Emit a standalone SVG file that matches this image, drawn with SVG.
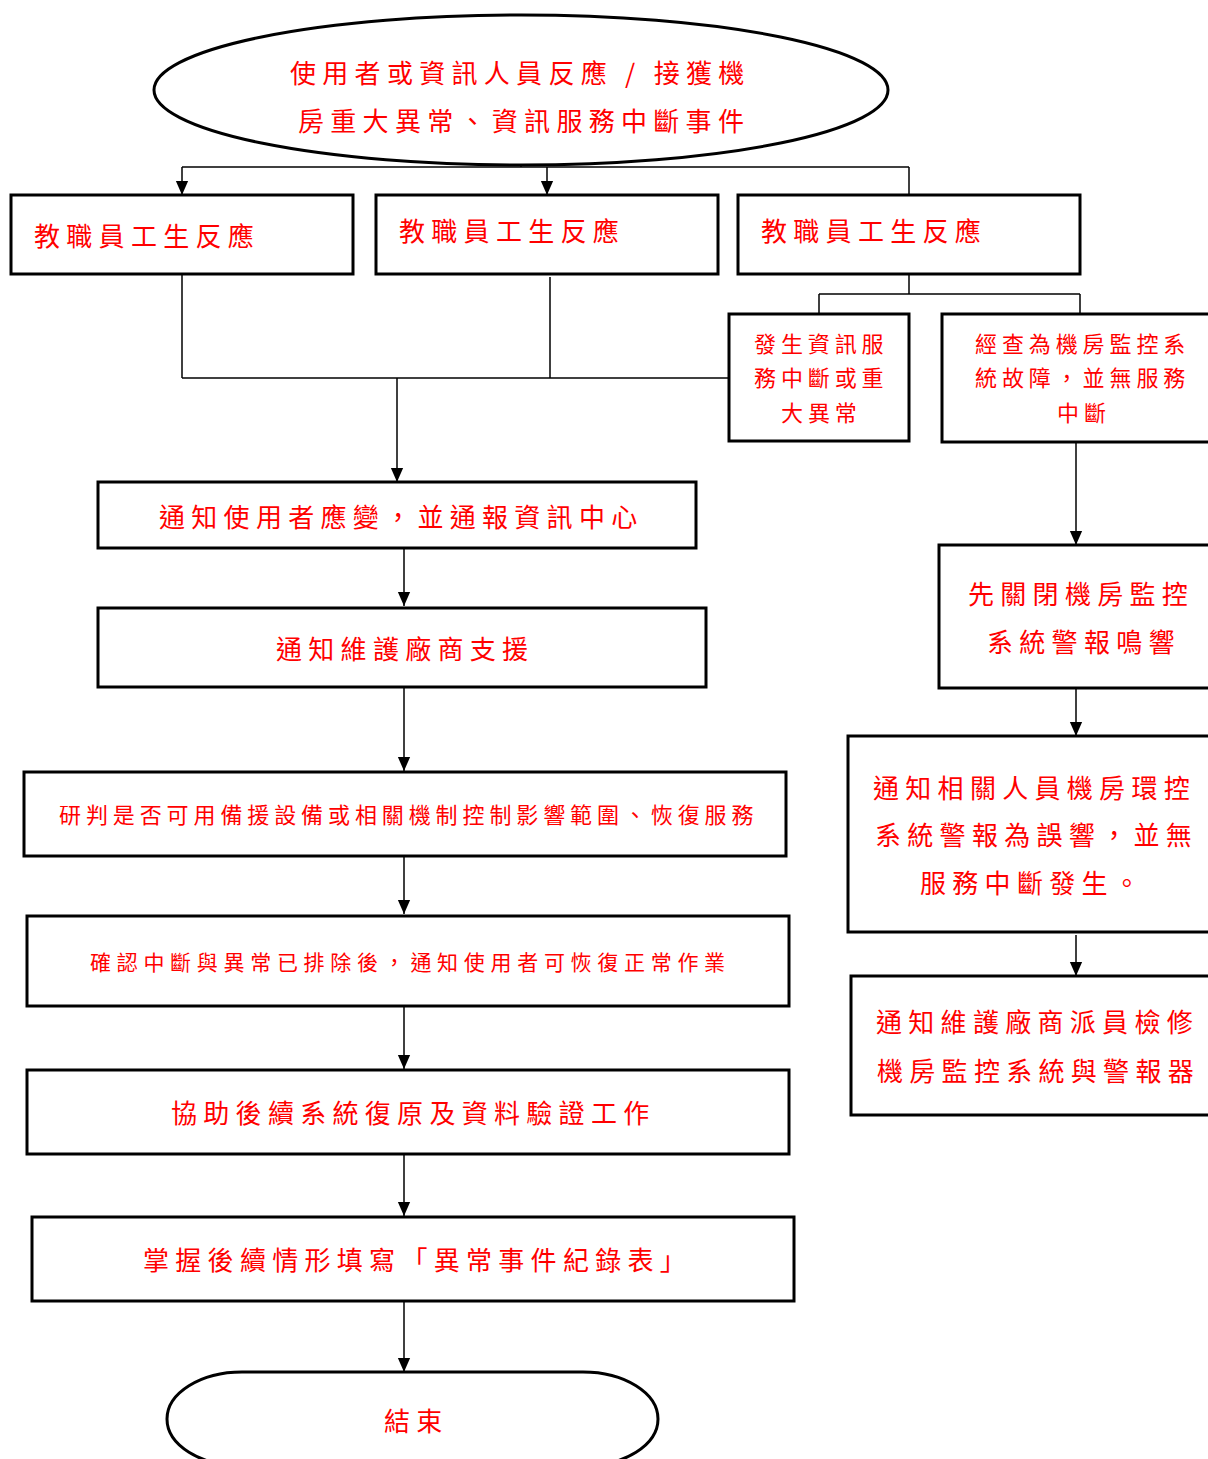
<svg xmlns="http://www.w3.org/2000/svg" width="1208" height="1459" viewBox="0 0 1208 1459">
  <style>
    .box { fill: #ffffff; stroke: #000000; stroke-width: 3; }
    .wire { fill: none; stroke: #000000; stroke-width: 1.5; }
    .lbl { fill: #ff0000; font-family: "Noto Sans CJK TC", "Noto Sans CJK SC", sans-serif; }
    .big { font-size: 26px; letter-spacing: 6.3px; }
    .mid { font-size: 22px; letter-spacing: 4.9px; }
    .sml { font-size: 21px; letter-spacing: 5.7px; }
  </style>
  <defs>
    <marker id="head" markerUnits="userSpaceOnUse" markerWidth="14" markerHeight="16" refX="16" refY="7" orient="auto" viewBox="0 0 16 14">
      <path d="M0,0 L16,7 L0,14 Z" fill="#000000"/>
    </marker>
  </defs>

  <!-- connectors -->
  <g id="connectors">
    <line class="wire" x1="521" y1="140" x2="521" y2="167"/>
    <line class="wire" x1="182" y1="167" x2="909" y2="167"/>
    <line class="wire" x1="182" y1="167" x2="182" y2="195" marker-end="url(#head)"/>
    <line class="wire" x1="547" y1="167" x2="547" y2="195" marker-end="url(#head)"/>
    <line class="wire" x1="909" y1="167" x2="909" y2="195"/>

    <line class="wire" x1="182" y1="274" x2="182" y2="378"/>
    <line class="wire" x1="550" y1="277" x2="550" y2="378"/>
    <line class="wire" x1="182" y1="378" x2="729" y2="378"/>
    <line class="wire" x1="397" y1="378" x2="397" y2="482" marker-end="url(#head)"/>

    <line class="wire" x1="909" y1="274" x2="909" y2="294"/>
    <line class="wire" x1="819" y1="294" x2="1080" y2="294"/>
    <line class="wire" x1="819" y1="294" x2="819" y2="314"/>
    <line class="wire" x1="1080" y1="294" x2="1080" y2="314"/>

    <line class="wire" x1="1076" y1="442" x2="1076" y2="545" marker-end="url(#head)"/>
    <line class="wire" x1="1076" y1="688" x2="1076" y2="736" marker-end="url(#head)"/>
    <line class="wire" x1="1076" y1="935" x2="1076" y2="976" marker-end="url(#head)"/>

    <line class="wire" x1="404" y1="548" x2="404" y2="606" marker-end="url(#head)"/>
    <line class="wire" x1="404" y1="687" x2="404" y2="771" marker-end="url(#head)"/>
    <line class="wire" x1="404" y1="856" x2="404" y2="914" marker-end="url(#head)"/>
    <line class="wire" x1="404" y1="1006" x2="404" y2="1069" marker-end="url(#head)"/>
    <line class="wire" x1="404" y1="1154" x2="404" y2="1216" marker-end="url(#head)"/>
    <line class="wire" x1="404" y1="1301" x2="404" y2="1372" marker-end="url(#head)"/>
  </g>

  <!-- start terminal -->
  <g id="start">
    <ellipse class="box" cx="521" cy="90" rx="367" ry="75"/>
    <text class="lbl big" x="290" y="83">使用者或資訊人員反應 / 接獲機</text>
    <text class="lbl big" x="298" y="131">房重大異常、資訊服務中斷事件</text>
  </g>

  <g id="report1">
    <rect class="box" x="11" y="195" width="342" height="79"/>
    <text class="lbl big" x="34" y="246">教職員工生反應</text>
  </g>
  <g id="report2">
    <rect class="box" x="376" y="195" width="342" height="79"/>
    <text class="lbl big" x="399" y="241">教職員工生反應</text>
  </g>
  <g id="report3">
    <rect class="box" x="738" y="195" width="342" height="79"/>
    <text class="lbl big" x="761" y="241">教職員工生反應</text>
  </g>

  <g id="outage">
    <rect class="box" x="729" y="314" width="180" height="127"/>
    <text class="lbl mid" x="754" y="352">發生資訊服</text>
    <text class="lbl mid" x="754" y="386">務中斷或重</text>
    <text class="lbl mid" x="781" y="421">大異常</text>
  </g>

  <g id="false-alarm">
    <rect class="box" x="942" y="314" width="280" height="128"/>
    <text class="lbl mid" x="975" y="352">經查為機房監控系</text>
    <text class="lbl mid" x="975" y="386">統故障，並無服務</text>
    <text class="lbl mid" x="1057" y="421">中斷</text>
  </g>

  <g id="notify-user">
    <rect class="box" x="98" y="482" width="598" height="66"/>
    <text class="lbl big" x="159" y="527">通知使用者應變，並通報資訊中心</text>
  </g>

  <g id="notify-vendor">
    <rect class="box" x="98" y="608" width="608" height="79"/>
    <text class="lbl big" x="276" y="659">通知維護廠商支援</text>
  </g>

  <g id="assess">
    <rect class="box" x="24" y="772" width="762" height="84"/>
    <text class="lbl mid" x="59" y="823">研判是否可用備援設備或相關機制控制影響範圍、恢復服務</text>
  </g>

  <g id="confirm">
    <rect class="box" x="27" y="916" width="762" height="90"/>
    <text class="lbl sml" x="90" y="970">確認中斷與異常已排除後，通知使用者可恢復正常作業</text>
  </g>

  <g id="restore">
    <rect class="box" x="27" y="1070" width="762" height="84"/>
    <text class="lbl big" x="171" y="1123">協助後續系統復原及資料驗證工作</text>
  </g>

  <g id="record">
    <rect class="box" x="32" y="1217" width="762" height="84"/>
    <text class="lbl big" x="143" y="1270">掌握後續情形填寫「異常事件紀錄表」</text>
  </g>

  <g id="end">
    <rect class="box" x="167" y="1372" width="491" height="94" rx="75" ry="47"/>
    <text class="lbl big" x="384" y="1431">結束</text>
  </g>

  <g id="silence-alarm">
    <rect class="box" x="939" y="545" width="285" height="143"/>
    <text class="lbl big" x="968" y="604">先關閉機房監控</text>
    <text class="lbl big" x="987" y="652">系統警報鳴響</text>
  </g>

  <g id="notify-staff">
    <rect class="box" x="848" y="736" width="376" height="196"/>
    <text class="lbl big" x="873" y="798">通知相關人員機房環控</text>
    <text class="lbl big" x="875" y="845">系統警報為誤響，並無</text>
    <text class="lbl big" x="920" y="893">服務中斷發生。</text>
  </g>

  <g id="repair">
    <rect class="box" x="851" y="976" width="373" height="139"/>
    <text class="lbl big" x="876" y="1032">通知維護廠商派員檢修</text>
    <text class="lbl big" x="877" y="1081">機房監控系統與警報器</text>
  </g>
</svg>
